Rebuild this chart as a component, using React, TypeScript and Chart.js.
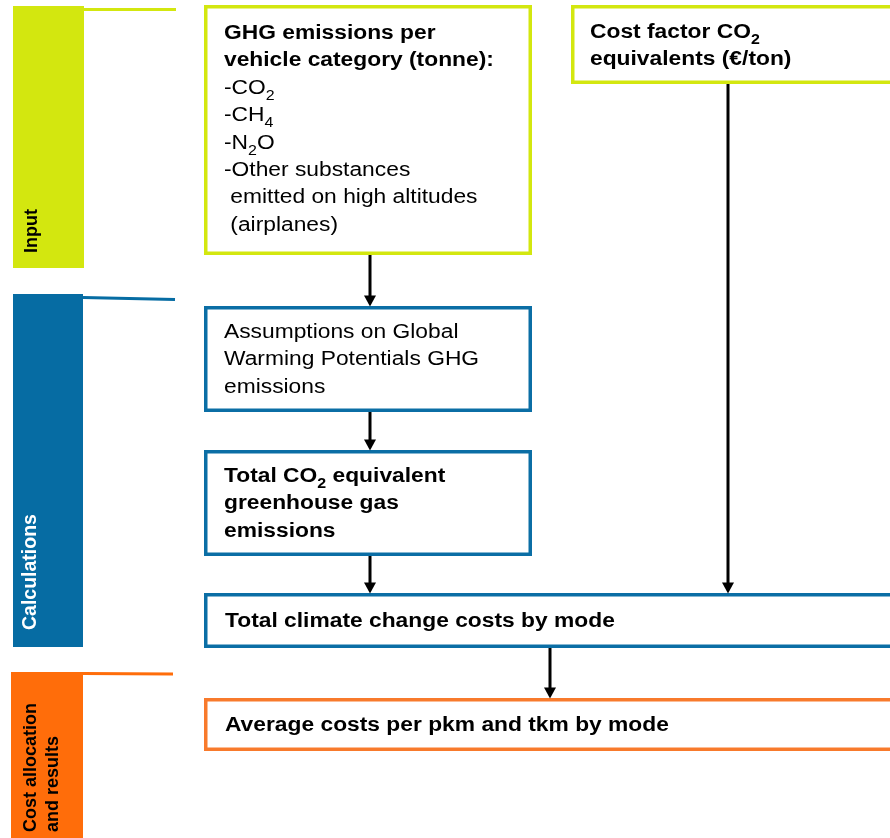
import React, { useEffect, useRef } from "react";
import { Chart, registerables } from "chart.js";

Chart.register(...registerables);

// ---------------- content ----------------
const stageLabels: string[][] = [["Input"], ["Calculations"], ["Cost allocation", "and results"]];

// "*" prefix = bold line, "_{..}" = subscript
const inputBoxLines = [
  "*GHG emissions per",
  "*vehicle category (tonne):",
  "-CO_{2}",
  "-CH_{4}",
  "-N_{2}O",
  "-Other substances",
  " emitted on high altitudes",
  " (airplanes)",
];
const costFactorLines = ["*Cost factor CO_{2}", "*equivalents (€/ton)"];
const gwpLines = ["Assumptions on Global", "Warming Potentials GHG", "emissions"];
const totalEmissionLines = ["*Total CO_{2} equivalent", "*greenhouse gas", "*emissions"];
const totalCostLines = ["*Total climate change costs by mode"];
const averageCostLines = ["*Average costs per pkm and tkm by mode"];

// arrows: [from box index, to box index]
const arrowLinks: [number, number][] = [
  [0, 2],
  [2, 3],
  [3, 4],
  [1, 4],
  [4, 5],
];

// ---------------- layout & style ----------------
const FONT = "'Liberation Sans', Arial, Helvetica, sans-serif";
const STAGE_COLORS = ["#d3e70f", "#066ca3", "#ff6d0a"];
const BORDER_COLORS = ["#d3e70f", "#0b6ea5", "#f87a2c"];
const STAGE_TEXT = ["#000000", "#ffffff", "#000000"];
const STAGE_FONT = [18, 19.5, 18];

const STAGES = [
  { x0: 13, x1: 84, y0: 6, y1: 268, line: [84, 9.5, 176, 9.5], textX: 37, textBottom: 253 },
  { x0: 13, x1: 83, y0: 294, y1: 647, line: [83, 297.5, 175, 299.5], textX: 36, textBottom: 630 },
  { x0: 11, x1: 83, y0: 672, y1: 840, line: [83, 673.5, 173, 674], textX: 36, textBottom: 832 },
];

const BOX_LAYOUT = [
  { stage: 0, x0: 204, x1: 532, y0: 5, y1: 255, textX: 224, base: 39 },
  { stage: 0, x0: 571, x1: 900, y0: 5, y1: 84, textX: 590, base: 38 },
  { stage: 1, x0: 204, x1: 532, y0: 306, y1: 412, textX: 224, base: 338 },
  { stage: 1, x0: 204, x1: 532, y0: 450, y1: 556, textX: 224, base: 482 },
  { stage: 1, x0: 204, x1: 900, y0: 593, y1: 648, textX: 225, base: 627 },
  { stage: 2, x0: 204, x1: 900, y0: 698, y1: 751, textX: 225, base: 731 },
];
const BOX_LINES = [inputBoxLines, costFactorLines, gwpLines, totalEmissionLines, totalCostLines, averageCostLines];
const ARROW_X = [370, 370, 370, 728, 550];

const LINE_H = 27.4;
const FONT_SIZE = 20;
const STRETCH = 1.14;
const BORDER_W = 3.5;
const HEAD_W = 6;
const HEAD_H = 11;

function drawRich(ctx: CanvasRenderingContext2D, raw: string, x: number, y: number) {
  let bold = false;
  let text = raw;
  if (text.startsWith("*")) {
    bold = true;
    text = text.slice(1);
  }
  ctx.save();
  ctx.translate(x, y);
  ctx.scale(STRETCH, 1);
  ctx.fillStyle = "#000";
  ctx.textBaseline = "alphabetic";
  ctx.textAlign = "left";
  const parts = text.split(/_\{([^}]*)\}/);
  let cx = 0;
  parts.forEach((p, i) => {
    const sub = i % 2 === 1;
    ctx.font = `${bold ? "bold " : ""}${sub ? 14 : FONT_SIZE}px ${FONT}`;
    ctx.fillText(p, cx, sub ? 6 : 0);
    cx += ctx.measureText(p).width;
  });
  ctx.restore();
}

const flowPlugin = {
  id: "flowPlugin",
  beforeDatasetsDraw(chart: any) {
    const ctx: CanvasRenderingContext2D = chart.ctx;
    const sx = chart.scales.x;
    const sy = chart.scales.y;
    const px = (v: number) => sx.getPixelForValue(v);
    const py = (v: number) => sy.getPixelForValue(v);

    ctx.save();
    ctx.fillStyle = "#ffffff";
    ctx.fillRect(0, 0, chart.width, chart.height);

    // stage bars
    STAGES.forEach((s, i) => {
      ctx.fillStyle = STAGE_COLORS[i];
      ctx.fillRect(px(s.x0), py(s.y0), px(s.x1) - px(s.x0), py(s.y1) - py(s.y0));
      ctx.strokeStyle = STAGE_COLORS[i];
      ctx.lineWidth = 3;
      ctx.beginPath();
      ctx.moveTo(px(s.line[0]), py(s.line[1]));
      ctx.lineTo(px(s.line[2]), py(s.line[3]));
      ctx.stroke();

      ctx.fillStyle = STAGE_TEXT[i];
      ctx.font = `bold ${STAGE_FONT[i]}px ${FONT}`;
      ctx.textAlign = "left";
      ctx.textBaseline = "alphabetic";
      stageLabels[i].forEach((ln, k) => {
        ctx.save();
        ctx.translate(px(s.textX + k * 22), py(s.textBottom));
        ctx.rotate(-Math.PI / 2);
        ctx.fillText(ln, 0, 0);
        ctx.restore();
      });
    });

    // boxes
    BOX_LAYOUT.forEach((b, i) => {
      ctx.strokeStyle = BORDER_COLORS[b.stage];
      ctx.lineWidth = BORDER_W;
      const h = BORDER_W / 2;
      ctx.strokeRect(px(b.x0) + h, py(b.y0) + h, px(b.x1) - px(b.x0) - BORDER_W, py(b.y1) - py(b.y0) - BORDER_W);
      BOX_LINES[i].forEach((ln, k) => {
        drawRich(ctx, ln, px(b.textX), py(b.base + k * LINE_H));
      });
    });
    ctx.restore();
  },
  afterDatasetsDraw(chart: any) {
    const ctx: CanvasRenderingContext2D = chart.ctx;
    const sx = chart.scales.x;
    const sy = chart.scales.y;
    ctx.save();
    ctx.fillStyle = "#000";
    arrowLinks.forEach(([, to], i) => {
      const x = sx.getPixelForValue(ARROW_X[i]);
      const tip = sy.getPixelForValue(BOX_LAYOUT[to].y0) + 0.5;
      ctx.beginPath();
      ctx.moveTo(x - HEAD_W, tip - HEAD_H);
      ctx.lineTo(x + HEAD_W, tip - HEAD_H);
      ctx.lineTo(x, tip);
      ctx.closePath();
      ctx.fill();
    });
    ctx.restore();
  },
};

export default function App() {
  const ref = useRef<HTMLCanvasElement | null>(null);
  useEffect(() => {
    if (!ref.current) return;
    const datasets = arrowLinks.map(([from, to], i) => ({
      data: [
        { x: ARROW_X[i], y: BOX_LAYOUT[from].y1 },
        { x: ARROW_X[i], y: BOX_LAYOUT[to].y0 - HEAD_H + 1 },
      ],
      showLine: true,
      borderColor: "#000",
      borderWidth: 3,
      pointRadius: 0,
      borderCapStyle: "butt" as const,
    }));
    const chart = new Chart(ref.current, {
      type: "scatter",
      data: { datasets },
      options: {
        responsive: false,
        animation: false,
        layout: { padding: 0 },
        events: [],
        plugins: { legend: { display: false }, tooltip: { enabled: false } },
        scales: {
          x: { type: "linear", min: 0, max: 890, display: false },
          y: { type: "linear", min: 0, max: 838, reverse: true, display: false },
        },
      },
      plugins: [flowPlugin],
    });
    return () => chart.destroy();
  }, []);
  return (
    <div style={{ position: "fixed", left: 0, top: 0, width: 890, height: 838, background: "#fff" }}>
      <canvas ref={ref} width={890} height={838} style={{ display: "block" }} />
    </div>
  );
}
